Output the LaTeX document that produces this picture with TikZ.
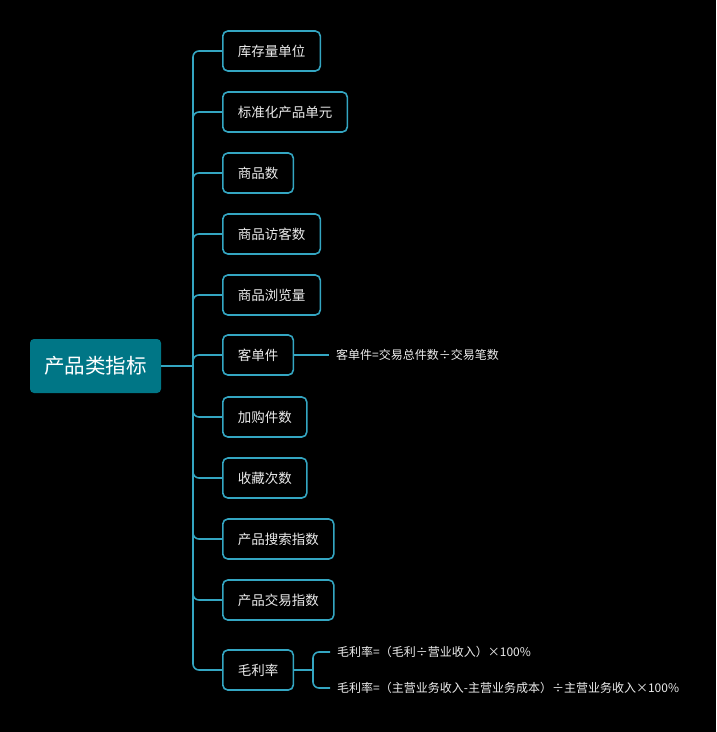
\documentclass[tikz,border=0pt]{standalone}
\usepackage{fontspec}
\setmainfont{Noto Sans CJK SC}
\definecolor{rootfill}{RGB}{0,118,134}
\definecolor{linec}{RGB}{52,166,194}
\definecolor{txt}{RGB}{236,236,236}
\tikzset{
  rootbox/.style={fill=rootfill, rounded corners=4pt, minimum width=131pt, minimum height=54pt, text=white, font=\fontsize{20.5pt}{22pt}\selectfont, inner sep=0pt},
  leaf/.style={draw=linec, line width=1.6pt, fill=black, rounded corners=5pt, minimum height=40pt, inner xsep=15pt, inner ysep=0pt, anchor=west, text=txt, font=\fontsize{13.5pt}{15pt}\selectfont},
  formula/.style={anchor=west, inner xsep=7pt, inner ysep=0pt, text=txt, font=\fontsize{12pt}{13pt}\selectfont},
  conn/.style={draw=linec, line width=1.6pt, rounded corners=6pt}
}
\begin{document}
\begin{tikzpicture}[x=1pt,y=-1pt]
\fill[black] (0,0) rectangle (716,732);
\useasboundingbox (0,0) rectangle (716,732);
\node[rootbox] (root) at (95.5,366) {产品类指标};
\coordinate (j) at (193,366);
\node[leaf] (c1) at (222,51) {库存量单位};
\node[leaf] (c2) at (222,112) {标准化产品单元};
\node[leaf] (c3) at (222,173) {商品数};
\node[leaf] (c4) at (222,234) {商品访客数};
\node[leaf] (c5) at (222,295) {商品浏览量};
\node[leaf] (c6) at (222,355) {客单件};
\node[leaf] (c7) at (222,417) {加购件数};
\node[leaf] (c8) at (222,478) {收藏次数};
\node[leaf] (c9) at (222,539) {产品搜索指数};
\node[leaf] (c10) at (222,600) {产品交易指数};
\node[leaf] (c11) at (222,670) {毛利率};
\draw[conn] (root.east) -- (j);
\foreach \c in {c1,c2,c3,c4,c5,c6,c7,c8,c9,c10,c11}{
  \draw[conn] (j) |- (\c.west);
}
\node[formula] (f0) at (329,355) {客单件=交易总件数÷交易笔数};
\draw[conn] (c6.east) -- (f0.west);
\coordinate (k) at (313,670);
\node[formula] (f1) at (330,652) {毛利率=（毛利÷营业收入）×100\%};
\node[formula] (f2) at (330,688) {毛利率=（主营业务收入-主营业务成本）÷主营业务收入×100\%};
\draw[conn] (c11.east) -- (k);
\draw[conn] (k) |- (f1.west);
\draw[conn] (k) |- (f2.west);
\end{tikzpicture}
\end{document}
